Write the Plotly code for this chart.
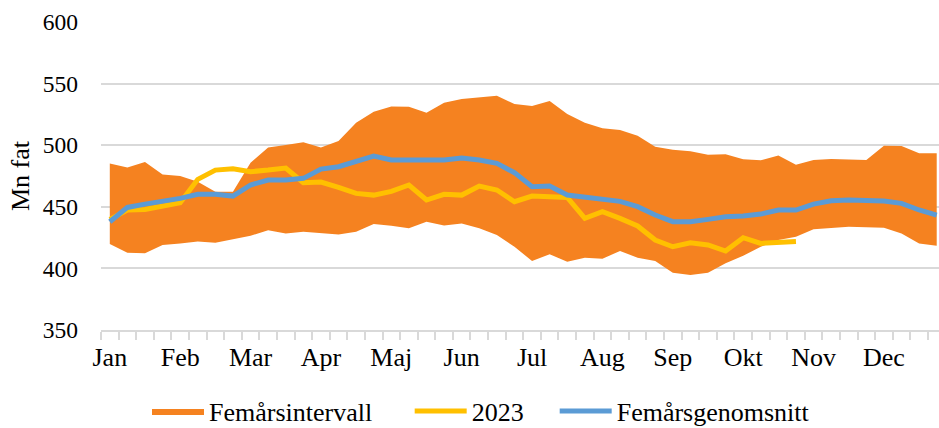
import plotly.graph_objects as go

weeks = list(range(48))
months = ["Jan", "Feb", "Mar", "Apr", "Maj", "Jun", "Jul", "Aug", "Sep", "Okt", "Nov", "Dec"]
month_weeks = [0, 4, 8, 12, 16, 20, 24, 28, 32, 36, 40, 44]

band_upper = [485.2, 482.0, 486.3, 476.3, 475.0, 470.4, 462.3, 462.3, 485.8, 498.2, 500.1, 502.3,
              498.2, 503.4, 518.3, 527.2, 531.5, 531.3, 526.4, 534.5, 537.5, 538.6, 540.2, 533.4,
              531.8, 535.9, 525.3, 518.3, 513.7, 512.3, 507.7, 498.8, 496.3, 495.0, 492.3, 492.6,
              488.5, 487.7, 491.7, 484.2, 488.0, 488.8, 488.5, 488.0, 499.6, 499.3, 493.4, 493.4]
band_lower = [419.8, 412.7, 412.2, 418.9, 420.3, 421.9, 420.9, 423.8, 426.5, 430.9, 428.4, 429.8,
              428.4, 427.6, 429.8, 436.0, 434.6, 432.5, 437.9, 434.9, 436.5, 432.5, 427.1, 417.6,
              406.0, 411.4, 405.4, 408.7, 407.9, 414.1, 408.7, 406.0, 396.5, 394.6, 396.5, 404.1,
              410.3, 417.6, 423.0, 425.7, 431.7, 433.0, 433.8, 433.3, 433.0, 428.4, 420.3, 418.4]
avg5 = [437.9, 449.5, 452.2, 454.1, 456.8, 460.1, 460.1, 458.7, 467.7, 471.7, 471.7, 473.1,
        480.6, 482.5, 486.6, 491.2, 488.0, 488.0, 488.8, 488.0, 489.6, 488.0, 485.3, 477.7,
        466.3, 466.8, 459.5, 457.6, 455.5, 454.4, 450.1, 443.3, 437.9, 437.9, 439.8, 442.0,
        442.5, 444.1, 447.4, 447.4, 452.2, 454.9, 455.5, 455.5, 454.7, 452.8, 447.4, 443.3]
y2023 = [439.8, 447.4, 447.9, 450.6, 453.3, 472.3, 479.8, 480.9, 478.5, 479.8, 481.5, 469.6,
         470.1, 465.8, 460.9, 459.5, 462.5, 467.7, 455.5, 460.1, 459.5, 466.8, 463.6, 454.1,
         458.7, 458.2, 457.6, 440.6, 446.0, 440.6, 434.4, 423.0, 417.6, 420.8, 419.0, 414.1,
         424.9, 420.3, 421.1, 421.9] + [None] * 8

FONT = "Liberation Serif, Times New Roman, serif"
ORANGE = "#F58220"
YELLOW = "#FFC000"
BLUE = "#5B9BD5"
GRID = "#D9D9D9"
NB = "\u00a0"  # non-breaking spaces used as extra gap between legend entries

fig = go.Figure()
fig.add_trace(go.Scatter(x=weeks, y=band_lower, mode="lines", line=dict(width=0, color=ORANGE),
                         showlegend=False, hoverinfo="skip"))
fig.add_trace(go.Scatter(x=weeks, y=band_upper, mode="lines", line=dict(width=0, color=ORANGE),
                         fill="tonexty", fillcolor=ORANGE, name="Femårsintervall" + NB * 5))
fig.add_trace(go.Scatter(x=weeks, y=y2023, mode="lines", line=dict(width=5, color=YELLOW),
                         name="2023" + NB * 4))
fig.add_trace(go.Scatter(x=weeks, y=avg5, mode="lines", line=dict(width=5, color=BLUE),
                         name="Femårsgenomsnitt"))

fig.update_layout(
    width=939, height=428,
    margin=dict(l=101, r=0, t=22, b=98, autoexpand=False),
    paper_bgcolor="white", plot_bgcolor="white",
    font=dict(family=FONT, size=26, color="black"),
    showlegend=True,
    legend=dict(orientation="h", xref="container", yref="container",
                x=147 / 939, xanchor="left", y=(428 - 411) / 428, yanchor="middle",
                font=dict(family=FONT, size=26, color="black"), traceorder="normal",
                itemwidth=52),
    xaxis=dict(
        range=[-0.5, 47.13], tickmode="array", tickvals=month_weeks, ticktext=months,
        ticks="", showgrid=False, zeroline=False,
        showline=True, linecolor=GRID, linewidth=1.5,
        tickfont=dict(family=FONT, size=26),
        ticklabelstandoff=3,
        minor=dict(tickmode="array", tickvals=[w - 0.5 for w in weeks] + [47.5],
                   ticks="outside", ticklen=8, tickwidth=1.5, tickcolor=GRID, showgrid=False),
    ),
    yaxis=dict(
        range=[350, 600], tickmode="array", tickvals=[350, 400, 450, 500, 550, 600],
        showgrid=True, gridcolor=GRID, gridwidth=1.5, zeroline=False, showline=False,
        ticks="", ticklabelstandoff=22, tickfont=dict(family=FONT, size=23.5),
        title=dict(text="Mn fat", font=dict(family=FONT, size=26), standoff=5),
    ),
)

fig.write_html("out.html", config={"displayModeBar": False},
               post_script="document.body.style.margin='0';document.body.style.overflow='hidden';")
